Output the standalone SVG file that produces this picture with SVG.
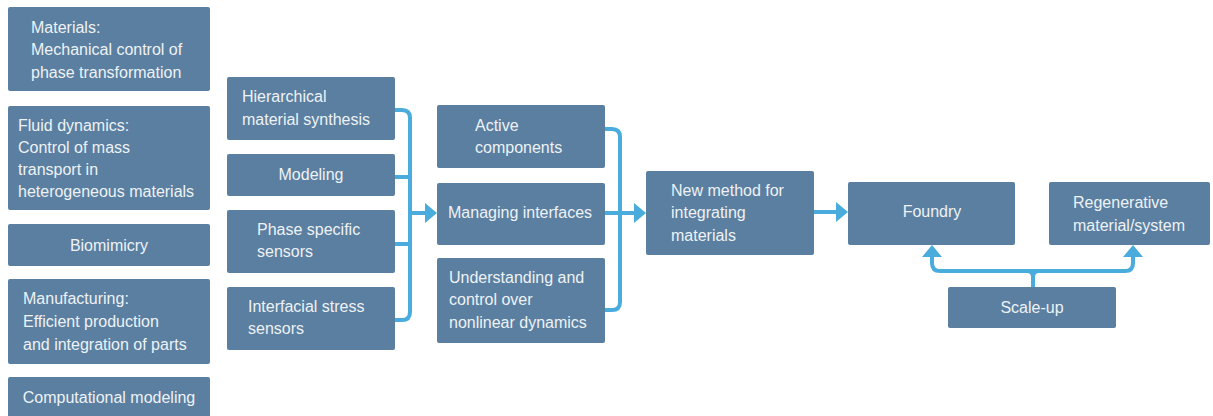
<svg xmlns="http://www.w3.org/2000/svg" width="1213" height="416" viewBox="0 0 1213 416">
<style>
.box{fill:#5a7fa0;}
.t{font-family:"Liberation Sans",Arial,sans-serif;font-size:16px;fill:#eef2f6;}
.c{text-anchor:middle;}
.con{fill:none;stroke:#4aacdc;stroke-width:4;stroke-linejoin:round;}
</style>
<defs>
<marker id="ah" markerUnits="userSpaceOnUse" markerWidth="13" markerHeight="20" refX="0" refY="10" orient="auto" viewBox="0 0 13 20">
<path d="M0,0 L12,10 L0,20 Z" fill="#4aacdc"/>
</marker>
</defs>
<rect width="1213" height="416" fill="#ffffff"/>

<g id="connectors">
<path class="con" d="M395,110 H402 Q410,110 410,118 V312 Q410,320 402,320 H395"/>
<path class="con" d="M395,177 H410 M395,244 H410"/>
<path class="con" d="M410,213 H425" marker-end="url(#ah)"/>
<path class="con" d="M605,129 H612 Q620,129 620,137 V302 Q620,310 612,310 H605"/>
<path class="con" d="M605,213 H634" marker-end="url(#ah)"/>
<path class="con" d="M814,212 H836" marker-end="url(#ah)"/>
<path class="con" d="M1033,287 V277 Q1033,271 1027,271 M1033,277 Q1033,271 1039,271"/>
<path class="con" d="M932,257 V263 Q932,271 940,271 H1125 Q1133,271 1133,263 V257"/>
<path class="con" d="M932,258 V257" marker-end="url(#ah)"/>
<path class="con" d="M1133,258 V257" marker-end="url(#ah)"/>
</g>

<g id="n-materials">
<rect class="box" x="8" y="7" width="202" height="84" rx="2"/>
<text class="t"><tspan x="31" y="33">Materials:</tspan><tspan x="31" y="55">Mechanical control of</tspan><tspan x="31" y="78">phase transformation</tspan></text>
</g>
<g id="n-fluid">
<rect class="box" x="8" y="106" width="202" height="104" rx="2"/>
<text class="t"><tspan x="18" y="131">Fluid dynamics:</tspan><tspan x="18" y="153">Control of mass</tspan><tspan x="18" y="175">transport in</tspan><tspan x="18" y="197">heterogeneous materials</tspan></text>
</g>
<g id="n-biomimicry">
<rect class="box" x="8" y="224" width="202" height="42" rx="2"/>
<text class="t c" x="109" y="251">Biomimicry</text>
</g>
<g id="n-manufacturing">
<rect class="box" x="8" y="279" width="202" height="85" rx="2"/>
<text class="t"><tspan x="23" y="304">Manufacturing:</tspan><tspan x="23" y="327">Efficient production</tspan><tspan x="23" y="350">and integration of parts</tspan></text>
</g>
<g id="n-computational">
<rect class="box" x="8" y="377" width="202" height="45" rx="2"/>
<text class="t c" x="109" y="403">Computational modeling</text>
</g>

<g id="n-hierarchical">
<rect class="box" x="227" y="77" width="168" height="63" rx="2"/>
<text class="t"><tspan x="242" y="102">Hierarchical</tspan><tspan x="242" y="125">material synthesis</tspan></text>
</g>
<g id="n-modeling">
<rect class="box" x="227" y="154" width="168" height="42" rx="2"/>
<text class="t c" x="311" y="180">Modeling</text>
</g>
<g id="n-phase">
<rect class="box" x="227" y="210" width="168" height="63" rx="2"/>
<text class="t"><tspan x="257" y="235">Phase specific</tspan><tspan x="257" y="257">sensors</tspan></text>
</g>
<g id="n-interfacial">
<rect class="box" x="227" y="287" width="168" height="63" rx="2"/>
<text class="t"><tspan x="248" y="312">Interfacial stress</tspan><tspan x="248" y="334">sensors</tspan></text>
</g>

<g id="n-active">
<rect class="box" x="437" y="105" width="168" height="63" rx="2"/>
<text class="t"><tspan x="475" y="131">Active</tspan><tspan x="475" y="153">components</tspan></text>
</g>
<g id="n-managing">
<rect class="box" x="437" y="183" width="168" height="62" rx="2"/>
<text class="t" x="448" y="218">Managing interfaces</text>
</g>
<g id="n-understanding">
<rect class="box" x="437" y="258" width="168" height="85" rx="2"/>
<text class="t"><tspan x="449" y="283">Understanding and</tspan><tspan x="449" y="305">control over</tspan><tspan x="449" y="328">nonlinear dynamics</tspan></text>
</g>

<g id="n-newmethod">
<rect class="box" x="646" y="171" width="168" height="84" rx="2"/>
<text class="t"><tspan x="671" y="196">New method for</tspan><tspan x="671" y="218">integrating</tspan><tspan x="671" y="241">materials</tspan></text>
</g>

<g id="n-foundry">
<rect class="box" x="848" y="182" width="167" height="63" rx="2"/>
<text class="t c" x="932" y="217">Foundry</text>
</g>
<g id="n-regenerative">
<rect class="box" x="1049" y="182" width="161" height="63" rx="2"/>
<text class="t"><tspan x="1073" y="208">Regenerative</tspan><tspan x="1073" y="231">material/system</tspan></text>
</g>
<g id="n-scaleup">
<rect class="box" x="948" y="287" width="168" height="41" rx="2"/>
<text class="t c" x="1032" y="313">Scale-up</text>
</g>
</svg>
